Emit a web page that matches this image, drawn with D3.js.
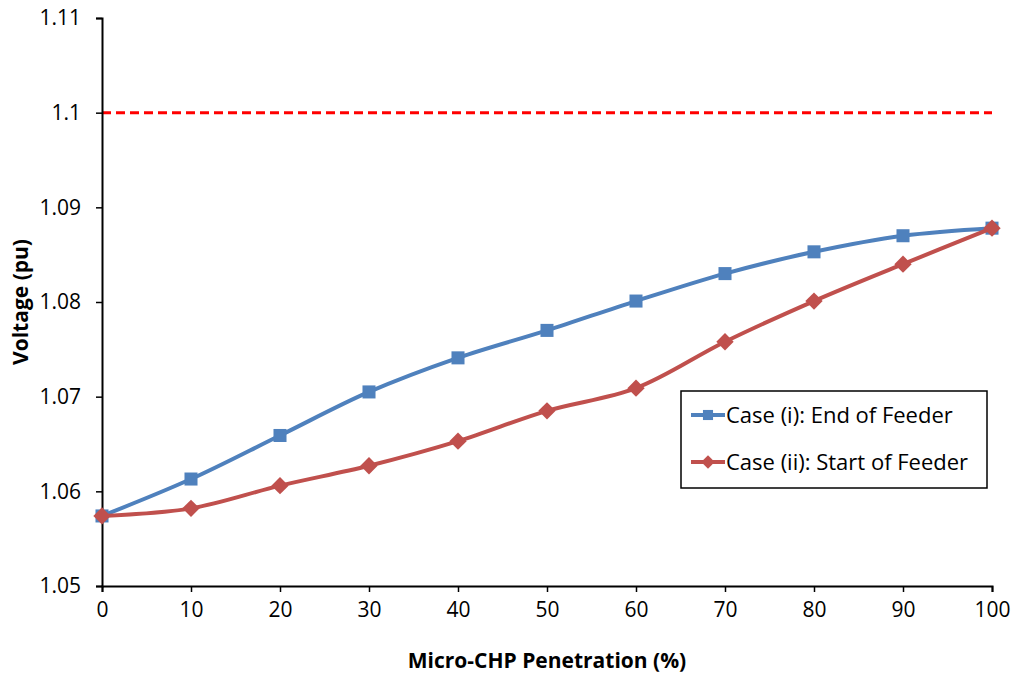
<!DOCTYPE html>
<html>
<head>
<meta charset="utf-8">
<script src="https://cdn.jsdelivr.net/npm/d3@7"></script>
<style>
  body { margin: 0; background: #fff; }
  text { font-family: "Open Sans", sans-serif; fill: #000; }
</style>
</head>
<body>
<div id="viz"></div>
<script>
const width = 1017;
const height = 677;
const margin = {top: 18, right: 25, bottom: 91, left: 102};

// data
const penetration = [0, 10, 20, 30, 40, 50, 60, 70, 80, 90, 100];
const endOfFeeder = [1.0574, 1.0613, 1.0659, 1.0705, 1.0741, 1.0770, 1.0801, 1.0830, 1.0853, 1.0870, 1.0878];
const startOfFeeder = [1.0574, 1.0582, 1.0606, 1.0627, 1.0653, 1.0685, 1.0709, 1.0758, 1.0801, 1.0840, 1.0878];
const voltageLimit = 1.1;
const yTicks = [1.05, 1.06, 1.07, 1.08, 1.09, 1.1, 1.11];
const seriesNames = ['Case (i): End of Feeder', 'Case (ii): Start of Feeder'];

const svg = d3.select('#viz')
  .append('svg')
    .attr('width', width)
    .attr('height', height);

const x = d3.scaleLinear()
  .domain([0, 100])
  .range([margin.left, width - margin.right]);

const y = d3.scaleLinear()
  .domain([1.05, 1.11])
  .range([height - margin.bottom, margin.top]);

// limit line
svg.append('line')
  .attr('x1', x(0)).attr('x2', x(100))
  .attr('y1', y(voltageLimit)).attr('y2', y(voltageLimit))
  .attr('stroke', '#ff0000')
  .attr('stroke-width', 3)
  .attr('stroke-dasharray', '9,5');

// axes
const xAxis = svg.append('g')
  .attr('transform', `translate(0,${y(1.05)})`)
  .call(d3.axisBottom(x).tickValues(penetration).tickSize(6).tickPadding(10).tickFormat(d3.format('d')));

const yAxis = svg.append('g')
  .attr('transform', `translate(${x(0)},0)`)
  .call(d3.axisLeft(y).tickValues(yTicks).tickSize(6).tickPadding(15).tickFormat(d => String(+d.toFixed(2))));

[xAxis, yAxis].forEach(a => {
  a.attr('font-size', 21).attr('font-family', '"Open Sans", sans-serif');
  a.select('.domain').attr('stroke', '#000').attr('stroke-width', 2);
  a.selectAll('.tick line').attr('stroke', '#000').attr('stroke-width', 1.5);
  a.selectAll('.tick text').style('font-size', '21px');
});

// series
const line = d3.line()
  .x(d => x(d[0]))
  .y(d => y(d[1]))
  .curve(d3.curveCatmullRom.alpha(0.5));

const series = [
  {name: seriesNames[0], values: endOfFeeder, color: '#4f81bd', rot: 0, size: 170},
  {name: seriesNames[1], values: startOfFeeder, color: '#c0504d', rot: 45, size: 150}
];

series.forEach(s => {
  const pts = penetration.map((p, i) => [p, s.values[i]]);
  svg.append('path')
    .datum(pts)
    .attr('fill', 'none')
    .attr('stroke', s.color)
    .attr('stroke-width', 4)
    .attr('d', line);
  svg.append('g')
    .selectAll('path')
    .data(pts)
    .join('path')
      .attr('transform', d => `translate(${x(d[0])},${y(d[1])}) rotate(${s.rot})`)
      .attr('d', d3.symbol(d3.symbolSquare, s.size))
      .attr('fill', s.color);
});

// legend
const legend = svg.append('g').attr('transform', 'translate(681,391)');
legend.append('rect')
  .attr('width', 306).attr('height', 97)
  .attr('fill', '#fff')
  .attr('stroke', '#000')
  .attr('stroke-width', 1.5);

series.forEach((s, i) => {
  const g = legend.append('g').attr('transform', `translate(0,${24 + i * 47})`);
  g.append('line')
    .attr('x1', 10).attr('x2', 44)
    .attr('stroke', s.color).attr('stroke-width', 4);
  g.append('path')
    .attr('transform', `translate(27,0) rotate(${s.rot})`)
    .attr('d', d3.symbol(d3.symbolSquare, s.size * 0.6))
    .attr('fill', s.color);
  g.append('text')
    .attr('x', 45).attr('dy', '0.35em')
    .style('font-size', '22px')
    .text(s.name);
});

// axis titles
svg.append('text')
  .attr('x', (x(0) + x(100)) / 2)
  .attr('y', 668)
  .attr('text-anchor', 'middle')
  .style('font-size', '21px')
  .style('font-weight', 'bold')
  .text('Micro-CHP Penetration (%)');

svg.append('text')
  .attr('transform', `translate(28,${(y(1.05) + y(1.11)) / 2}) rotate(-90)`)
  .attr('text-anchor', 'middle')
  .style('font-size', '21px')
  .style('font-weight', 'bold')
  .text('Voltage (pu)');
</script>
</body>
</html>
